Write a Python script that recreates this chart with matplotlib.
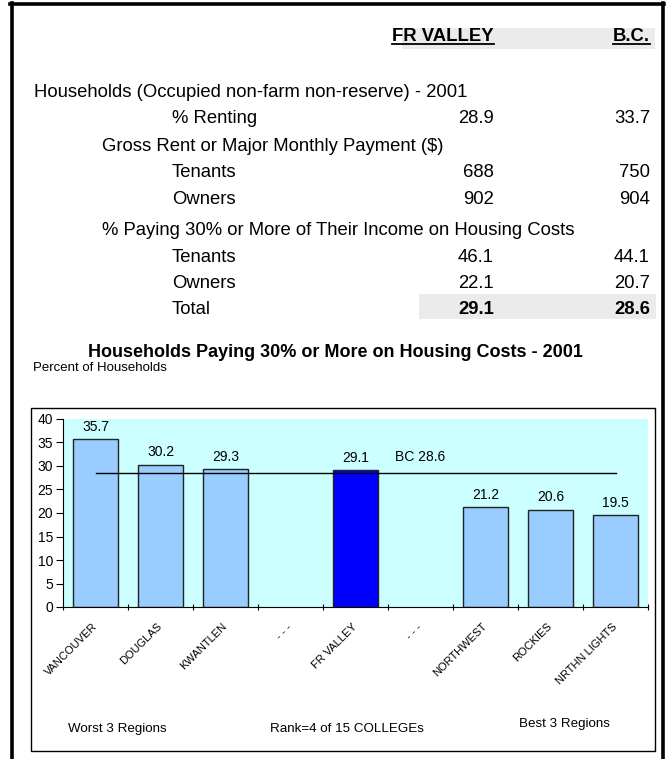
import matplotlib
matplotlib.use("Agg")
import matplotlib.pyplot as plt
from matplotlib.patches import Rectangle
from matplotlib.lines import Line2D
import numpy as np

plt.rcParams['font.family'] = ['Liberation Sans', 'DejaVu Sans']

# table data
row_labels = ['Households (Occupied non-farm non-reserve) - 2001',
              '% Renting',
              'Gross Rent or Major Monthly Payment ($)',
              'Tenants', 'Owners',
              '% Paying 30% or More of Their Income on Housing Costs',
              'Tenants', 'Owners', 'Total']
row_indent = [0, 2, 1, 2, 2, 1, 2, 2, 2]
fr_valley = ['', '28.9', '', '688', '902', '', '46.1', '22.1', '29.1']
bc = ['', '33.7', '', '750', '904', '', '44.1', '20.7', '28.6']

# chart data
colleges = ['VANCOUVER', 'DOUGLAS', 'KWANTLEN', '- - -', 'FR VALLEY', '- - -',
            'NORTHWEST', 'ROCKIES', 'NRTHN LIGHTS']
pct_paying = [35.7, 30.2, 29.3, np.nan, 29.1, np.nan, 21.2, 20.6, 19.5]
bc_value = 28.6
highlight = 'FR VALLEY'

W, H = 667, 759
fig = plt.figure(figsize=(W / 100, H / 100), dpi=100)


def fx(x):
    return x / W


def fy(y):
    return 1 - y / H


TS = 13.3  # table font size

# outer frame
fig.add_artist(Line2D([fx(11.5), fx(11.5)], [fy(3), fy(759)], color='black', lw=2.6))
fig.add_artist(Line2D([fx(662.5), fx(662.5)], [fy(3), fy(759)], color='black', lw=2.6))
fig.add_artist(Line2D([fx(10), fx(664)], [fy(3.5), fy(3.5)], color='black', lw=2.6))

# shaded cells
fig.add_artist(Rectangle((fx(402), fy(49)), fx(655) - fx(402), fy(28) - fy(49),
                         facecolor='#ebebeb', edgecolor='none'))
fig.add_artist(Rectangle((fx(419), fy(319)), fx(656) - fx(419), fy(294) - fy(319),
                         facecolor='#ebebeb', edgecolor='none'))

# header
hdr1 = fig.text(fx(494), fy(41), 'FR VALLEY', ha='right', va='baseline',
                fontsize=TS, fontweight='bold')
hdr2 = fig.text(fx(650), fy(41), 'B.C.', ha='right', va='baseline',
                fontsize=TS, fontweight='bold')
fig.canvas.draw()
r = fig.canvas.get_renderer()
for t in (hdr1, hdr2):
    bb = t.get_window_extent(r)
    fig.add_artist(Line2D([bb.x0 / W, bb.x1 / W], [fy(44), fy(44)],
                          color='black', lw=1.3))

# table rows
baselines = [97, 123, 151, 177, 204, 235, 262, 288, 314]
indent_x = [34, 102, 172]
for i, lab in enumerate(row_labels):
    bold = 'bold' if lab == 'Total' else 'normal'
    y = fy(baselines[i])
    fig.text(fx(indent_x[row_indent[i]]), y, lab, ha='left', va='baseline', fontsize=TS)
    if fr_valley[i]:
        fig.text(fx(494), y, fr_valley[i], ha='right', va='baseline',
                 fontsize=TS, fontweight=bold)
        fig.text(fx(650), y, bc[i], ha='right', va='baseline',
                 fontsize=TS, fontweight=bold)

# chart titles
fig.text(fx(335), fy(357), 'Households Paying 30% or More on Housing Costs - 2001',
         ha='center', va='baseline', fontsize=13, fontweight='bold')
fig.text(fx(33), fy(371), 'Percent of Households', ha='left', va='baseline', fontsize=9.5)

# chart box
fig.add_artist(Rectangle((fx(31), fy(751)), fx(655) - fx(31), fy(408) - fy(751),
                         facecolor='none', edgecolor='black', lw=1))

ax = fig.add_axes([fx(63), fy(607), fx(648) - fx(63), fy(419) - fy(607)])
ax.set_facecolor('#CCFFFF')
x = np.arange(len(colleges))
colors = ['#0000FF' if c == highlight else '#99CCFF' for c in colleges]
ax.bar(x, pct_paying, width=0.68, color=colors, edgecolor='#222222', lw=1)
for xi, v in zip(x, pct_paying):
    if not np.isnan(v):
        ax.text(xi, v + 2.7, f'{v:.1f}', ha='center', va='center', fontsize=10)
ax.plot([0, len(colleges) - 1], [bc_value, bc_value], color='black', lw=1)
ax.text(5, 31.9, f'BC {bc_value}', ha='center', va='center', fontsize=10)

ax.set_xlim(-0.5, len(colleges) - 0.5)
ax.set_ylim(0, 40)
ax.set_yticks(np.arange(0, 41, 5))
ax.set_xticks(x)
ax.set_xticklabels(colleges, rotation=45, ha='right', va='center',
                   rotation_mode='anchor', fontsize=8)
ax.set_xticks(np.arange(-0.5, len(colleges)), minor=True)
ax.tick_params(axis='x', which='major', length=0, pad=13)
ax.tick_params(axis='x', which='minor', length=5, direction='inout', width=0.8)
ax.tick_params(axis='y', length=5, direction='out', width=0.8, labelsize=10, pad=2)
for s in ('top', 'right'):
    ax.spines[s].set_visible(False)
for s in ('left', 'bottom'):
    ax.spines[s].set_linewidth(0.8)

fig.text(fx(117), fy(732), 'Worst 3 Regions', ha='center', va='baseline', fontsize=9.6)
fig.text(fx(347), fy(732), 'Rank=4 of 15 COLLEGEs', ha='center', va='baseline', fontsize=9.6)
fig.text(fx(564), fy(727), 'Best 3 Regions', ha='center', va='baseline', fontsize=9.6)

fig.savefig('out.png', dpi=100)
